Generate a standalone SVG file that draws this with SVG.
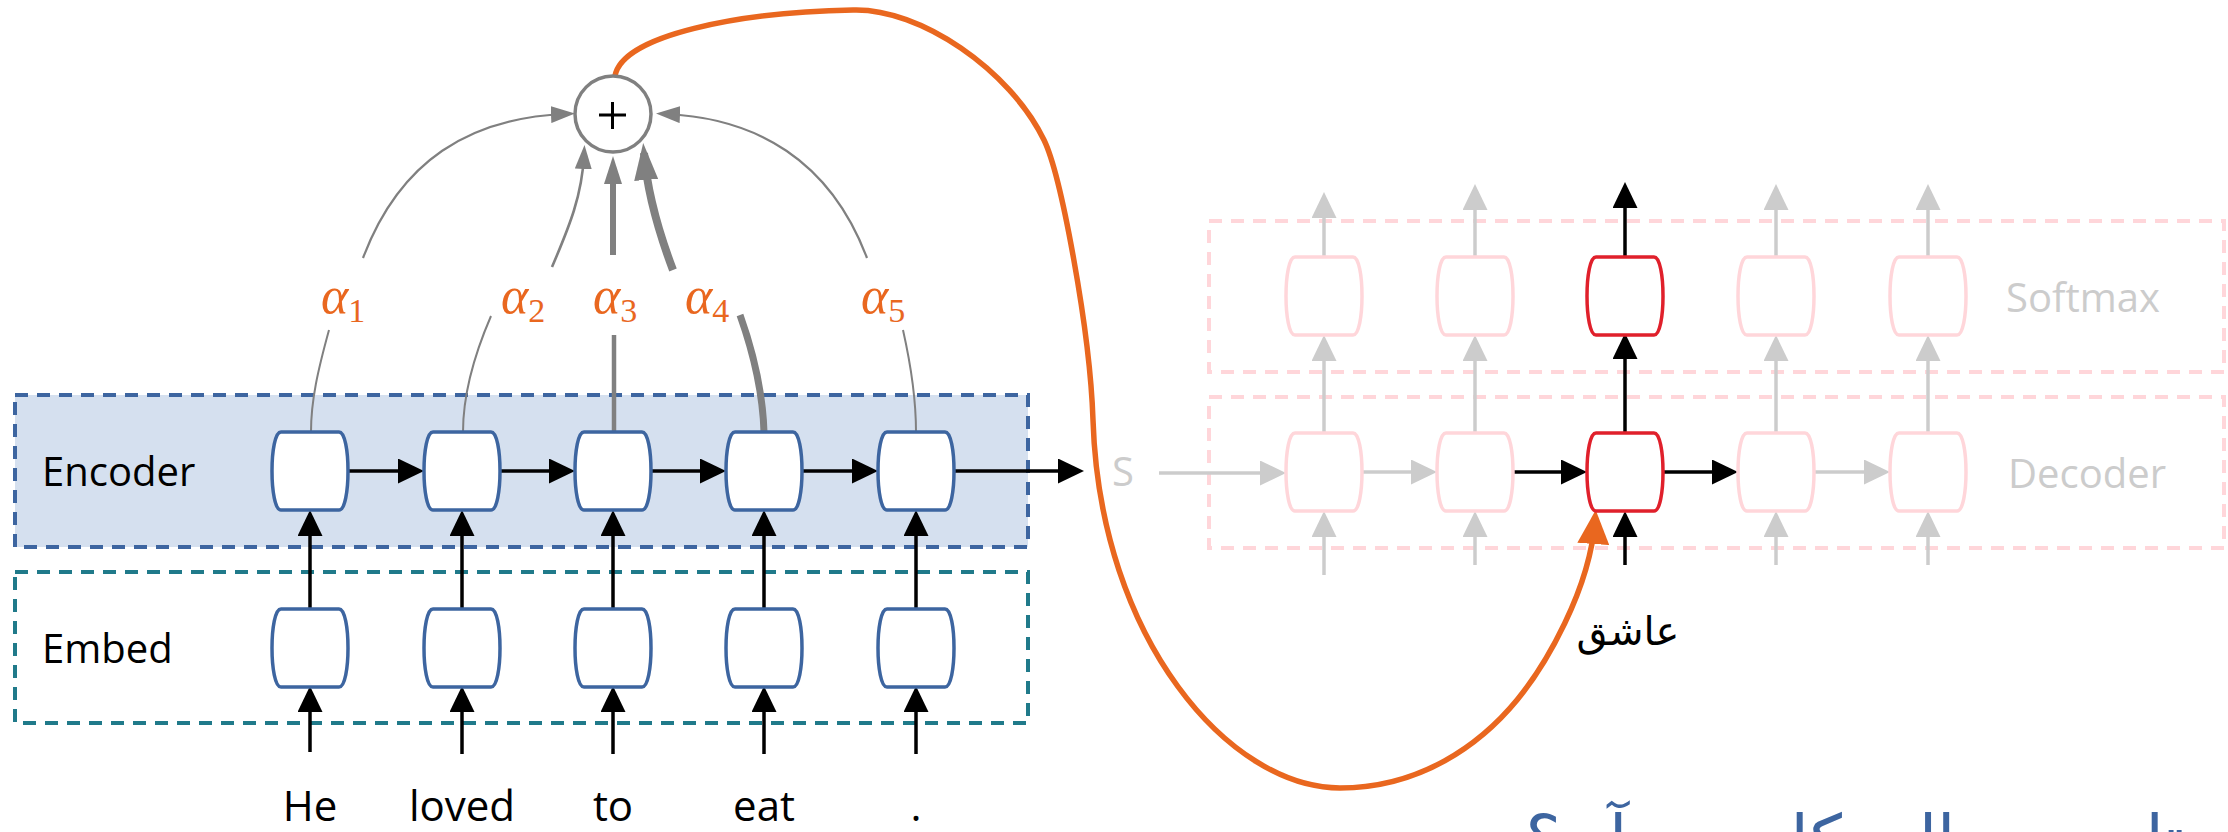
<svg xmlns="http://www.w3.org/2000/svg" xmlns:xlink="http://www.w3.org/1999/xlink" width="2228" height="832" viewBox="0 0 2228 832">
<style>
.lbl{font-family:"Open Sans","Liberation Sans",sans-serif;font-size:40px;fill:#000}
.word{font-family:"Open Sans","Liberation Sans",sans-serif;font-size:42px;fill:#000;text-anchor:middle}
.faint{font-family:"Open Sans","Liberation Sans",sans-serif;font-size:40px;fill:#CCCCCC}
.al{font-family:"Liberation Serif","DejaVu Serif",serif;font-style:italic;font-size:52px;fill:#E9671F}
.sub{font-style:normal;font-size:34px}
.enc{fill:#fff;stroke:#3D65A0;stroke-width:3.5}
.pink{fill:#fff;stroke:#FFD6DA;stroke-width:3.5}
.red{fill:#fff;stroke:#E0202B;stroke-width:3.5}
.blk{stroke:#000;stroke-width:3.5;fill:none;marker-end:url(#ab)}
.lg{stroke:#CCCCCC;stroke-width:3.5;fill:none;marker-end:url(#ag)}
.att{stroke:#808080;fill:none}
</style>
<defs>
<path id="cell" d="M-29,-39 H29 C41,-39 41,39 29,39 H-29 C-41,39 -41,-39 -29,-39 Z"/>
<marker id="ab" markerUnits="userSpaceOnUse" markerWidth="26" markerHeight="25" refX="16" refY="12.5" orient="auto"><path d="M0,0 L26,12.5 L0,25 Z" fill="#000"/></marker>
<marker id="ag" markerUnits="userSpaceOnUse" markerWidth="26" markerHeight="25" refX="16" refY="12.5" orient="auto"><path d="M0,0 L26,12.5 L0,25 Z" fill="#CCCCCC"/></marker>
<marker id="gt" markerUnits="userSpaceOnUse" markerWidth="24" markerHeight="17" refX="14" refY="8.5" orient="auto"><path d="M0,0 L24,8.5 L0,17 Z" fill="#808080"/></marker>
<marker id="gm" markerUnits="userSpaceOnUse" markerWidth="28" markerHeight="18" refX="18" refY="9" orient="auto"><path d="M0,0 L28,9 L0,18 Z" fill="#808080"/></marker>
<marker id="gk" markerUnits="userSpaceOnUse" markerWidth="37" markerHeight="24" refX="27" refY="12" orient="auto"><path d="M0,0 L37,12 L0,24 Z" fill="#808080"/></marker>
<marker id="ao" markerUnits="userSpaceOnUse" markerWidth="34" markerHeight="32" refX="24" refY="16" orient="auto"><path d="M0,0 L34,16 L0,32 Z" fill="#E9671F"/></marker>
</defs>

<g id="encoder-box">
<rect x="15" y="395" width="1013" height="152" fill="#D5E0EF" stroke="#3D65A0" stroke-width="4" stroke-dasharray="13 9"/>
<text class="lbl" x="42" y="486">Encoder</text>
</g>
<g id="embed-box">
<rect x="15" y="572" width="1013" height="151" fill="none" stroke="#207A8A" stroke-width="4" stroke-dasharray="13 9"/>
<text class="lbl" x="42" y="663">Embed</text>
</g>
<g id="softmax-box">
<rect x="1209" y="221" width="1015" height="151" fill="none" stroke="#FFD6DA" stroke-width="4" stroke-dasharray="13 9"/>
<text class="faint" x="2006" y="312">Softmax</text>
</g>
<g id="decoder-box">
<rect x="1209" y="397" width="1015" height="151" fill="none" stroke="#FFD6DA" stroke-width="4" stroke-dasharray="13 9"/>
<text class="faint" x="2008" y="488">Decoder</text>
</g>

<g id="connectors">
<!-- input words to embed -->
<path class="blk" d="M310,752 V696"/>
<path class="blk" d="M462,754 V696"/>
<path class="blk" d="M613,754 V696"/>
<path class="blk" d="M764,754 V696"/>
<path class="blk" d="M916,754 V696"/>
<!-- embed to encoder -->
<path class="blk" d="M310,609 V520"/>
<path class="blk" d="M462,609 V520"/>
<path class="blk" d="M613,609 V520"/>
<path class="blk" d="M764,609 V520"/>
<path class="blk" d="M916,609 V520"/>
<!-- encoder recurrence -->
<path class="blk" d="M348,471 H414"/>
<path class="blk" d="M500,471 H565"/>
<path class="blk" d="M651,471 H716"/>
<path class="blk" d="M802,471 H868"/>
<path class="blk" d="M954,471 H1074"/>
<!-- attention lower segments -->
<path class="att" stroke-width="2" d="M329,330 C318,370 311,400 311,432"/>
<path class="att" stroke-width="2" d="M491,316 C472,360 463,400 463,432"/>
<path class="att" stroke-width="4.5" d="M614,335 V432"/>
<path class="att" stroke-width="7" d="M740,315 C756,360 763,400 764,432"/>
<path class="att" stroke-width="2" d="M903,330 C912,370 916,400 916,432"/>
<!-- attention upper arrows into sum -->
<path class="att" stroke-width="2.2" marker-end="url(#gt)" d="M363,258 C400,160 470,118 565,114"/>
<path class="att" stroke-width="2.2" marker-end="url(#gt)" d="M867,258 C830,160 756,118 666,114"/>
<path class="att" stroke-width="2.6" marker-end="url(#gt)" d="M552,267 C570,225 582,195 584,155"/>
<path class="att" stroke-width="6" marker-end="url(#gm)" d="M613,255 V166"/>
<path class="att" stroke-width="8" marker-end="url(#gk)" d="M673,270 C656,225 647,190 644,153"/>
<!-- context vector to decoder -->
<path fill="none" stroke="#E9671F" stroke-width="5.5" marker-end="url(#ao)" d="M615,76 C622,35 740,12 853,10 C920,8 1010,70 1044,140 C1061,175 1090,330 1093,420 C1100,640 1230,788 1340,788 C1420,788 1480,745 1517,700 C1545,666 1590,590 1595,520"/>
<!-- decoder recurrence -->
<path class="lg" d="M1159,473 H1276"/>
<path class="lg" d="M1362,472 H1427"/>
<path class="blk" d="M1513,472 H1577"/>
<path class="blk" d="M1663,472 H1728"/>
<path class="lg" d="M1814,472 H1880"/>
<!-- decoder inputs -->
<path class="lg" d="M1324,575 V521"/>
<path class="lg" d="M1475,565 V521"/>
<path class="blk" d="M1625,565 V521"/>
<path class="lg" d="M1776,565 V521"/>
<path class="lg" d="M1928,565 V521"/>
<!-- decoder to softmax -->
<path class="lg" d="M1324,433 V345"/>
<path class="lg" d="M1475,433 V345"/>
<path class="blk" d="M1625,433 V343"/>
<path class="lg" d="M1776,433 V345"/>
<path class="lg" d="M1928,433 V345"/>
<!-- softmax outputs -->
<path class="lg" d="M1324,258 V202"/>
<path class="lg" d="M1475,258 V194"/>
<path class="blk" d="M1625,258 V192"/>
<path class="lg" d="M1776,258 V194"/>
<path class="lg" d="M1928,258 V194"/>
</g>

<g id="sum-node">
<circle cx="613" cy="114" r="38" fill="#fff" stroke="#808080" stroke-width="3.5"/>
<path d="M599,115 H626 M612.5,102 V129" stroke="#000" stroke-width="3"/>
</g>

<g id="alpha-labels">
<text class="al" x="321" y="313">α<tspan class="sub" dy="9">1</tspan></text>
<text class="al" x="501" y="313">α<tspan class="sub" dy="9">2</tspan></text>
<text class="al" x="593" y="313">α<tspan class="sub" dy="9">3</tspan></text>
<text class="al" x="685" y="313">α<tspan class="sub" dy="9">4</tspan></text>
<text class="al" x="861" y="313">α<tspan class="sub" dy="9">5</tspan></text>
</g>

<g id="encoder-cells">
<use xlink:href="#cell" href="#cell" x="310" y="471" class="enc"/>
<use xlink:href="#cell" href="#cell" x="462" y="471" class="enc"/>
<use xlink:href="#cell" href="#cell" x="613" y="471" class="enc"/>
<use xlink:href="#cell" href="#cell" x="764" y="471" class="enc"/>
<use xlink:href="#cell" href="#cell" x="916" y="471" class="enc"/>
</g>
<g id="embed-cells">
<use xlink:href="#cell" href="#cell" x="310" y="648" class="enc"/>
<use xlink:href="#cell" href="#cell" x="462" y="648" class="enc"/>
<use xlink:href="#cell" href="#cell" x="613" y="648" class="enc"/>
<use xlink:href="#cell" href="#cell" x="764" y="648" class="enc"/>
<use xlink:href="#cell" href="#cell" x="916" y="648" class="enc"/>
</g>
<g id="decoder-cells">
<use xlink:href="#cell" href="#cell" x="1324" y="472" class="pink"/>
<use xlink:href="#cell" href="#cell" x="1475" y="472" class="pink"/>
<use xlink:href="#cell" href="#cell" x="1625" y="472" class="red"/>
<use xlink:href="#cell" href="#cell" x="1776" y="472" class="pink"/>
<use xlink:href="#cell" href="#cell" x="1928" y="472" class="pink"/>
</g>
<g id="softmax-cells">
<use xlink:href="#cell" href="#cell" x="1324" y="296" class="pink"/>
<use xlink:href="#cell" href="#cell" x="1475" y="296" class="pink"/>
<use xlink:href="#cell" href="#cell" x="1625" y="296" class="red"/>
<use xlink:href="#cell" href="#cell" x="1776" y="296" class="pink"/>
<use xlink:href="#cell" href="#cell" x="1928" y="296" class="pink"/>
</g>

<g id="words">
<text class="word" x="310" y="821">He</text>
<text class="word" x="462" y="821">loved</text>
<text class="word" x="613" y="821">to</text>
<text class="word" x="764" y="821">eat</text>
<text class="word" x="916" y="821">.</text>
<text class="faint" x="1112" y="486">S</text>
</g>

<g id="persian">
<text x="1628" y="645" font-family="'DejaVu Sans',sans-serif" font-size="40" fill="#000" direction="rtl" text-anchor="middle">عاشق</text>
<text x="2184" y="862" font-family="'DejaVu Sans',sans-serif" font-size="66" word-spacing="26" fill="#3D65A0" direction="rtl" text-anchor="start">تا به حال کاربرد آن؟</text>
</g>
</svg>
